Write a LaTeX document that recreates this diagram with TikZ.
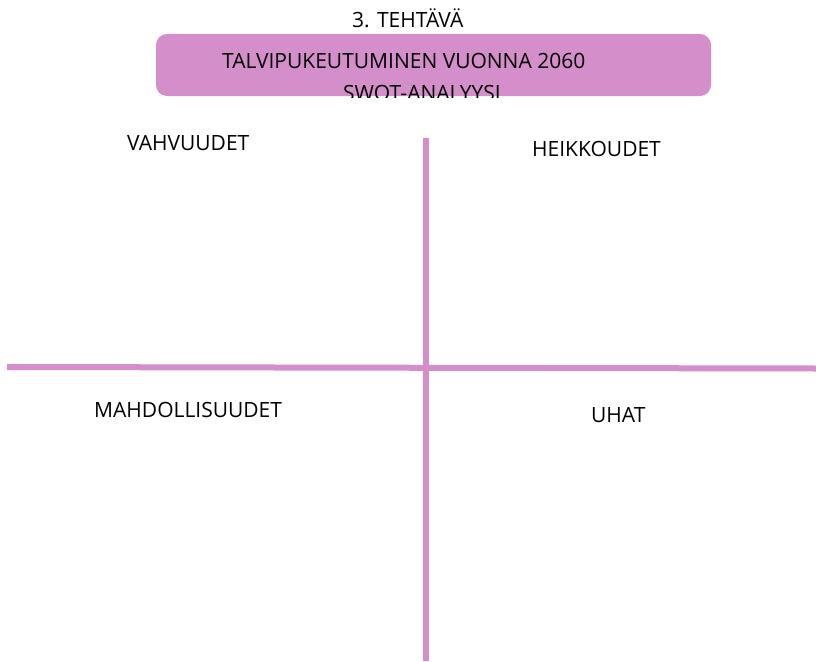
\documentclass[tikz,border=0pt]{standalone}
\usepackage{fontspec}
\setmainfont{Open Sans}
\definecolor{swotpink}{RGB}{212,142,202}
\begin{document}
\begin{tikzpicture}[x=1pt,y=-1pt,
  lbl/.style={anchor=base west,inner sep=0pt,font=\fontsize{21}{25}\selectfont,text=black},
  rule/.style={draw=swotpink,line width=6pt}]
\useasboundingbox (0,0) rectangle (816,661);
% title box
\path[fill=swotpink,rounded corners=11pt] (156,34) rectangle (711,96);
\node[lbl] (task) at (352,28) {3. TEHTÄVÄ};
\node[lbl] (title1) at (222,69) {TALVIPUKEUTUMINEN VUONNA 2060};
\begin{scope}
  \clip (156,34) rectangle (711,97);
  \node[lbl] (title2) at (343,100) {SWOT-ANALYYSI};
\end{scope}
% cross
\coordinate (vtop) at (426,138);
\coordinate (vbot) at (426,661);
\coordinate (hl) at (7,367);
\coordinate (hr) at (816,368.5);
\draw[rule] (vtop) -- (vbot);
\draw[rule] (hl) -- (hr);
% quadrant labels
\node[lbl] (s) at (127,150) {VAHVUUDET};
\node[lbl] (w) at (532,156) {HEIKKOUDET};
\node[lbl] (o) at (94,417) {MAHDOLLISUUDET};
\node[lbl] (t) at (591,422) {UHAT};
\end{tikzpicture}
\end{document}
